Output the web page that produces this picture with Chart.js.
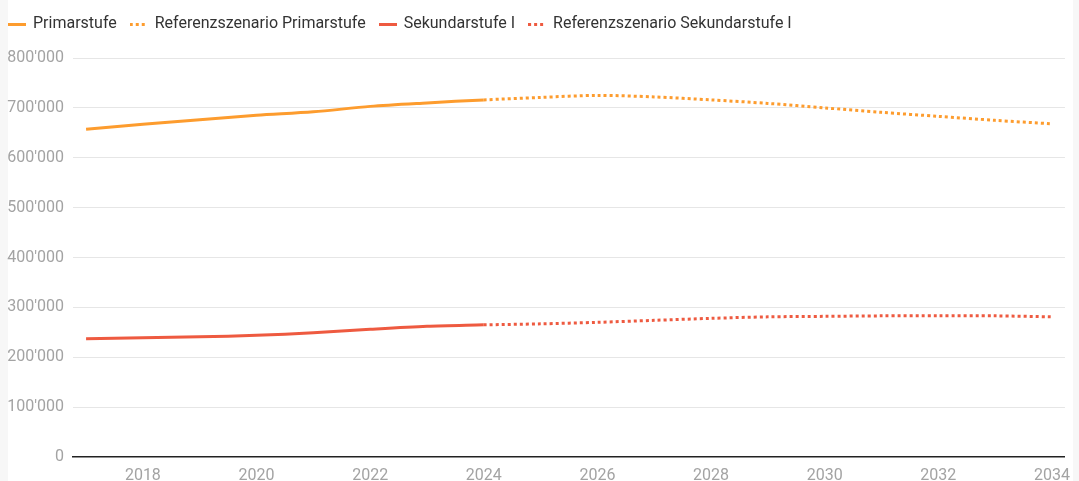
<!DOCTYPE html>
<html>
<head>
<meta charset="utf-8">
<script src="https://cdn.jsdelivr.net/npm/chart.js@4.4.1/dist/chart.umd.min.js"></script>
<style>
  html, body { margin: 0; padding: 0; background: #f7f7f7; }
  #wrap { position: relative; width: 1079px; height: 481px; }
  #white { position: absolute; left: 8px; top: 0; width: 1065px; height: 481px; background: #ffffff; }
  #c { position: absolute; left: 0; top: 0; }
</style>
</head>
<body>
<div id="wrap">
  <div id="white"></div>
  <canvas id="c" width="1079" height="481"></canvas>
</div>
<script>
const yearsObserved = [2017, 2018, 2019, 2020, 2021, 2022, 2023, 2024];
const yearsScenario = [2024, 2025, 2026, 2027, 2028, 2029, 2030, 2031, 2032, 2033, 2034];
const primarstufe = [657000, 667000, 676000, 685000, 692000, 703000, 710000, 716000];
const refPrimarstufe = [716000, 721000, 725000, 722000, 716000, 709000, 700000, 691000, 683000, 675000, 668000];
const sekundarstufe = [237000, 239000, 241000, 244000, 249000, 256000, 262000, 265000];
const refSekundarstufe = [265000, 267000, 270000, 274000, 278000, 281000, 282000, 283000, 283000, 283000, 281000];
const xTickYears = [2018, 2020, 2022, 2024, 2026, 2028, 2030, 2032, 2034];
const yTickValues = [0, 100000, 200000, 300000, 400000, 500000, 600000, 700000, 800000];
const seriesNames = ['Primarstufe', 'Referenzszenario Primarstufe', 'Sekundarstufe I', 'Referenzszenario Sekundarstufe I'];

const ORANGE = '#fd9c2e';
const RED = '#ee5a40';
const DOTS = [3, 3];

const toPoints = (xs, ys) => xs.map((x, i) => ({ x: x, y: ys[i] }));
const fmt = v => String(v).replace(/\B(?=(\d{3})+(?!\d))/g, "'");

function legendLine(color, dash) {
  const cv = document.createElement('canvas');
  cv.width = 18; cv.height = 3;
  const g = cv.getContext('2d');
  g.strokeStyle = color;
  g.lineWidth = 3;
  g.setLineDash(dash || []);
  g.beginPath();
  g.moveTo(0, 1.5);
  g.lineTo(18, 1.5);
  g.stroke();
  return cv;
}

const legendSpacer = {
  id: 'legendSpacer',
  beforeInit(chart) {
    const origFit = chart.legend.fit;
    chart.legend.fit = function () {
      origFit.call(this);
      this.height += 16;
    };
  }
};

new Chart(document.getElementById('c'), {
  type: 'line',
  data: {
    datasets: [
      { label: seriesNames[0], data: toPoints(yearsObserved, primarstufe), borderColor: ORANGE, backgroundColor: ORANGE, borderWidth: 3 },
      { label: seriesNames[1], data: toPoints(yearsScenario, refPrimarstufe), borderColor: ORANGE, backgroundColor: ORANGE, borderWidth: 3, borderDash: DOTS },
      { label: seriesNames[2], data: toPoints(yearsObserved, sekundarstufe), borderColor: RED, backgroundColor: RED, borderWidth: 3 },
      { label: seriesNames[3], data: toPoints(yearsScenario, refSekundarstufe), borderColor: RED, backgroundColor: RED, borderWidth: 3, borderDash: DOTS }
    ]
  },
  options: {
    responsive: false,
    animation: false,
    events: [],
    layout: { padding: { left: -5, right: 9, top: 2, bottom: 0 } },
    elements: {
      point: { radius: 0 },
      line: { tension: 0.3, borderCapStyle: 'butt', fill: false }
    },
    plugins: {
      tooltip: { enabled: false },
      legend: {
        display: true,
        position: 'top',
        align: 'start',
        labels: {
          usePointStyle: true,
          pointStyleWidth: 16,
          boxWidth: 16,
          boxHeight: 16,
          padding: 14,
          color: '#333333',
          font: { family: 'Roboto', size: 16 },
          generateLabels: chart => {
            const items = Chart.defaults.plugins.legend.labels.generateLabels(chart);
            return items.map(it => {
              const ds = chart.data.datasets[it.datasetIndex];
              it.pointStyle = legendLine(ds.borderColor, ds.borderDash);
              return it;
            });
          }
        }
      }
    },
    scales: {
      x: {
        type: 'linear',
        min: 2016.77,
        max: 2034.23,
        grid: { display: false, drawTicks: false },
        border: { display: true, color: '#222222', width: 1.5 },
        afterBuildTicks: s => { s.ticks = xTickYears.map(v => ({ value: v })); },
        afterFit: s => { s.height = 24; },
        ticks: {
          padding: 9,
          maxRotation: 0,
          autoSkip: false,
          color: '#a3a3a3',
          font: { family: 'Roboto', size: 16 },
          callback: v => String(v)
        }
      },
      y: {
        min: 0,
        max: 800000,
        grid: {
          drawTicks: false,
          color: ctx => (ctx.tick && ctx.tick.value === 0) ? 'rgba(0,0,0,0)' : '#e6e6e6',
          lineWidth: 1
        },
        border: { display: false },
        afterBuildTicks: s => { s.ticks = yTickValues.map(v => ({ value: v })); },
        afterFit: s => { s.width = 78; },
        ticks: {
          padding: 9,
          color: '#a3a3a3',
          font: { family: 'Roboto', size: 16 },
          callback: v => fmt(v)
        }
      }
    }
  },
  plugins: [legendSpacer]
});
</script>
</body>
</html>
